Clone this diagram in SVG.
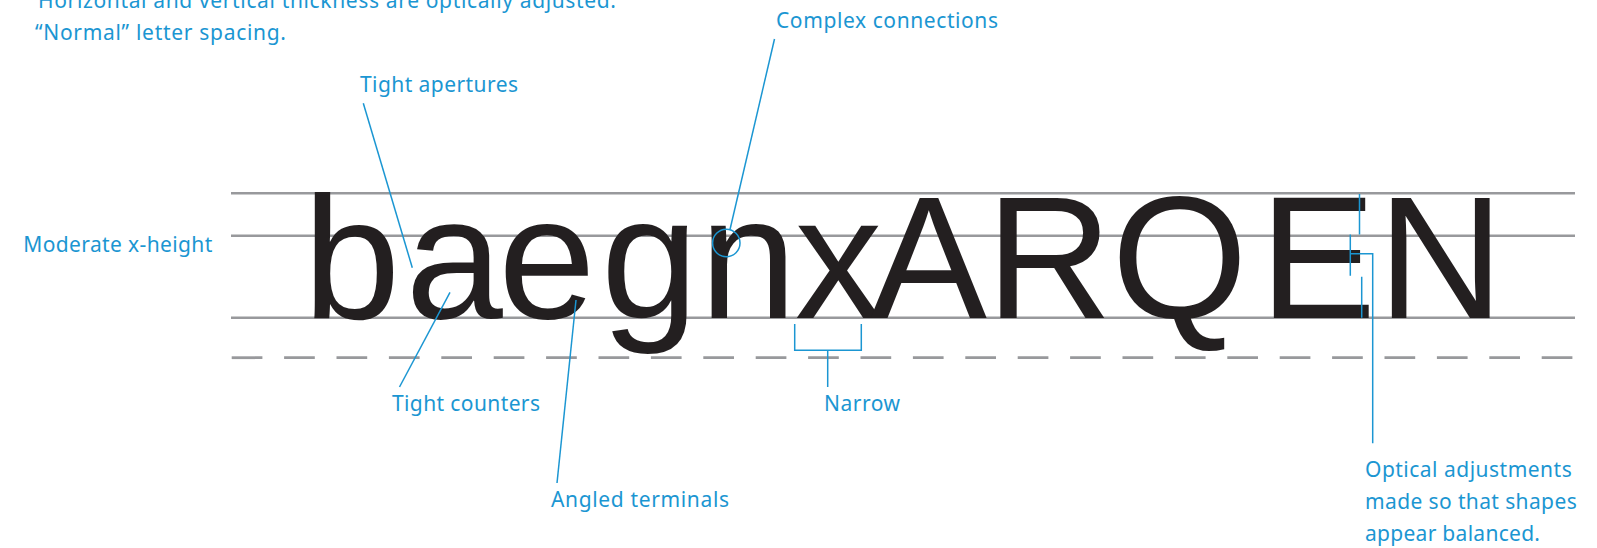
<svg xmlns="http://www.w3.org/2000/svg" width="1597" height="548" viewBox="0 0 1597 548">
<style>
.lbl{font-family:"Noto Sans","Liberation Sans",Arial,sans-serif;font-size:21px;fill:#1b96d2;}
.big{font-family:"Liberation Sans",Arial,sans-serif;font-size:175px;fill:#231f20;}
.guide{stroke:#98999c;stroke-width:2.4;fill:none;}
.dash{stroke:#98999c;stroke-width:2.8;fill:none;stroke-dasharray:30.7 21.7;}
.lead{stroke:#1b96d2;stroke-width:1.5;fill:none;}
</style>
<rect width="1597" height="548" fill="#ffffff"/>
<g id="guides">
<line class="guide" x1="231" y1="193.3" x2="1575" y2="193.3"/>
<line class="guide" x1="231" y1="235.7" x2="1575" y2="235.7"/>
<line class="guide" x1="231" y1="317.7" x2="1575" y2="317.7"/>
<line class="dash" x1="231.7" y1="357.7" x2="1575" y2="357.7"/>
</g>
<g id="specimen">
<text class="big" x="302.9 405.4 498.2 601 699.5 794.7 870.3 986 1111.5 1259.5 1377.4" y="317.7">baegnxARQEN</text>
</g>
<g id="connectors">
<line class="lead" x1="363.3" y1="103.3" x2="412.3" y2="267.7"/>
<line class="lead" x1="774.5" y1="39" x2="730" y2="229.5"/>
<circle class="lead" cx="726.3" cy="243" r="13.7"/>
<line class="lead" x1="450" y1="292.3" x2="399.5" y2="387"/>
<line class="lead" x1="576" y1="300" x2="557" y2="483"/>
<path class="lead" d="M794.7 324 V350.3 H861.3 V324 M827.7 350.3 V387"/>
<path class="lead" d="M1359.5 194 V234.5 M1350.3 234.5 V275.7 M1350.3 253.8 H1372.7 V443.3 M1361.7 276.7 V317.7"/>
</g>
<g id="label-horizontal"><text class="lbl" x="38" y="8" textLength="578" lengthAdjust="spacing">Horizontal and vertical thickness are optically adjusted.</text></g>
<g id="label-normal"><text class="lbl" x="35" y="40" textLength="251" lengthAdjust="spacing">“Normal” letter spacing.</text></g>
<g id="label-complex"><text class="lbl" x="776" y="27.7" textLength="222" lengthAdjust="spacing">Complex connections</text></g>
<g id="label-apertures"><text class="lbl" x="360" y="92.3" textLength="158" lengthAdjust="spacing">Tight apertures</text></g>
<g id="label-xheight"><text class="lbl" x="23.3" y="251.7" textLength="189" lengthAdjust="spacing">Moderate x-height</text></g>
<g id="label-counters"><text class="lbl" x="392" y="411" textLength="148" lengthAdjust="spacing">Tight counters</text></g>
<g id="label-narrow"><text class="lbl" x="824" y="411" textLength="76" lengthAdjust="spacing">Narrow</text></g>
<g id="label-terminals"><text class="lbl" x="551" y="507" textLength="178" lengthAdjust="spacing">Angled terminals</text></g>
<g id="label-optical">
<text class="lbl" x="1365" y="477.3" textLength="206.7" lengthAdjust="spacing">Optical adjustments</text>
<text class="lbl" x="1365" y="509.3" textLength="211.7" lengthAdjust="spacing">made so that shapes</text>
<text class="lbl" x="1365" y="541" textLength="175" lengthAdjust="spacing">appear balanced.</text>
</g>
</svg>
